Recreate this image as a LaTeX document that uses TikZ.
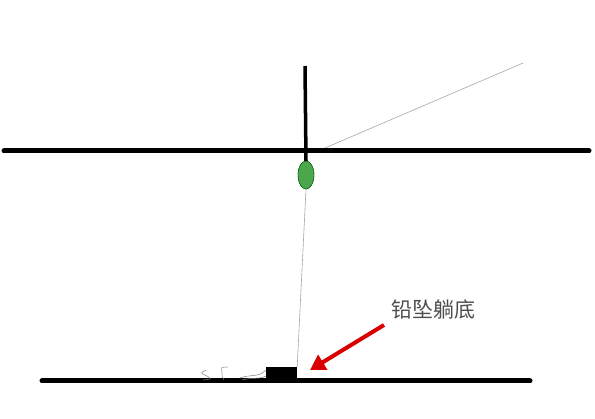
\documentclass[tikz,border=0pt]{standalone}
\usepackage{fontspec}
\newfontfamily\cjk{Noto Sans CJK SC}
\usetikzlibrary{arrows.meta,positioning,shapes.geometric}
\tikzset{
  >={Triangle[length=15pt,width=17pt]},
  water/.style={draw=black, line width=5pt, line cap=round},
  stick/.style={draw=black, line width=3.5pt},
  line/.style={draw=gray!70, line width=0.6pt},
  floatnode/.style={
    ellipse,
    fill=green!50!black!70,
    draw=green!35!black,
    minimum width=16pt,
    minimum height=28pt,
    inner sep=0pt},
  sinker/.style={
    rectangle,
    fill=black,
    minimum width=31pt,
    minimum height=13pt,
    inner sep=0pt},
  label/.style={font=\cjk\fontsize{21}{25}\selectfont, text=black!70},
  pointer/.style={draw=red!85!black, line width=4pt, ->},
  weed/.style={draw=gray, line width=0.5pt}
}
\begin{document}
\begin{tikzpicture}[x=1pt,y=-1pt]
  \useasboundingbox (0,0) rectangle (595,419);

  % surface and bottom
  \coordinate (surfL) at (4,151);
  \coordinate (surfR) at (589,151);
  \coordinate (bedL) at (42,381);
  \coordinate (bedR) at (530,381);

  \node[floatnode] (float) at (306,175) {};
  \node[sinker] (weight) at (281.5,373.5) {};
  \coordinate (top) at (305,66);
  \coordinate (tip) at (523,63);
  \coordinate (rodend) at (318,151);

  % line from rod tip, float and line to the sinker
  \draw[line] (rodend) -- (tip);
  \draw[line] (float.south) -- (weight.north east);
  \draw[stick] (top) -- (float.north);
  \draw[water] (surfL) -- (surfR);
  \draw[water] (bedL) -- (bedR);
  \node[floatnode] at (float) {};

  % loose line on the bed
  \draw[weed] (206,370) .. controls (200,373) .. (207,376) .. controls (212,379) .. (203,380);
  \draw[weed] (228,367) .. controls (221,367) .. (222,372) .. controls (222,377) .. (224,380);
  \draw[weed] (240,378) .. controls (250,374) and (258,378) .. (266,370);
  \draw[weed] (242,380) .. controls (252,377) and (258,380) .. (266,376);

  \node[label] (text) at (433,310) {铅坠躺底};
  \coordinate (head) at (310,370);
  \draw[pointer] (384,325) -- (head);
\end{tikzpicture}
\end{document}
